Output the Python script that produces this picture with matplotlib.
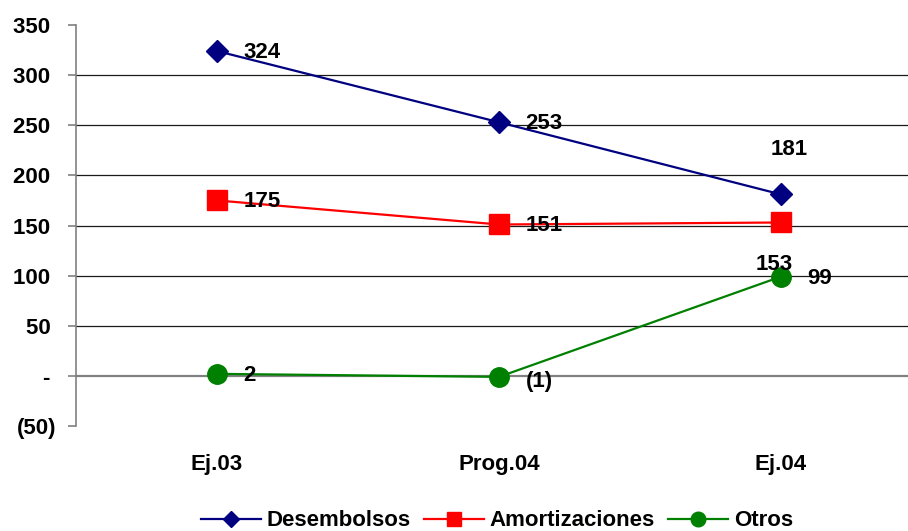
import matplotlib

matplotlib.use("Agg", force=True)
import matplotlib.pyplot as plt

categories = ["Ej.03", "Prog.04", "Ej.04"]
desembolsos = [324, 253, 181]
amortizaciones = [175, 151, 153]
otros = [2, -1, 99]
y_ticks = [-50, 0, 50, 100, 150, 200, 250, 300, 350]


def fmt(v):
    if v == 0:
        return "-"
    if v < 0:
        return f"({abs(v)})"
    return f"{v}"


def fmt_tick(v):
    # positives get a trailing space so digits line up with "(50)"
    return fmt(v) if v < 0 else fmt(v) + " "


plt.rcParams["font.family"] = ["Liberation Sans", "DejaVu Sans"]
plt.rcParams["font.weight"] = "bold"
FS = 16

fig = plt.figure(figsize=(9.08, 5.31), dpi=100)
ax = fig.add_axes([76 / 908, 105 / 531, 846 / 908, 401 / 531])
ax.set_xlim(-0.5, 2.5)
ax.set_ylim(-50, 350)

x = list(range(len(categories)))

for v in y_ticks:
    if v in (-50, 350):
        continue
    if v == 0:
        ax.axhline(v, color="#808080", lw=1.6, zorder=1)
    else:
        ax.axhline(v, color="#1a1a1a", lw=0.9, zorder=1)

series = [
    ("Desembolsos", desembolsos, "#000080", "D", 11.5),
    ("Amortizaciones", amortizaciones, "#FF0000", "s", 14),
    ("Otros", otros, "#008000", "o", 14),
]
for label, values, color, marker, ms in series:
    ax.plot(x, values, color=color, lw=1.6, marker=marker, markersize=ms,
            markeredgecolor=color, label=label, zorder=3, clip_on=False)

# data labels; last points use custom placement
offsets = {
    "Desembolsos": [(19, -1), (19, -1), (6, 32)],
    "Amortizaciones": [(19, -1), (19, -1), (-5, -30)],
    "Otros": [(19, -1), (19, -3), (19, -1)],
}
for label, values, color, marker, ms in series:
    for i, v in enumerate(values):
        dx, dy = offsets[label][i]
        ha = "left" if dx >= 19 else "center"
        ax.annotate(fmt(v), (i, v), xytext=(dx, dy), textcoords="offset points",
                    ha=ha, va="center", fontsize=FS, fontweight="bold", zorder=4)

ax.set_yticks(y_ticks)
ax.set_yticklabels([fmt_tick(v) for v in y_ticks], fontsize=FS, fontweight="bold")
ax.set_xticks(x)
ax.set_xticklabels(categories, fontsize=FS, fontweight="bold")
ax.tick_params(axis="x", length=0, pad=20)
ax.tick_params(axis="y", length=6, width=1.2, color="#808080", pad=8)

for side in ("top", "right", "bottom"):
    ax.spines[side].set_visible(False)
ax.spines["left"].set_color("#808080")
ax.spines["left"].set_linewidth(1.2)

fig.legend(loc="center", bbox_to_anchor=(497 / 908, 10 / 531), ncol=3, frameon=False,
           prop={"size": FS, "weight": "bold"}, handlelength=2.7, handletextpad=0.25,
           columnspacing=0.6, borderpad=0, markerscale=0.75)

fig.savefig("out.png", dpi=100)
